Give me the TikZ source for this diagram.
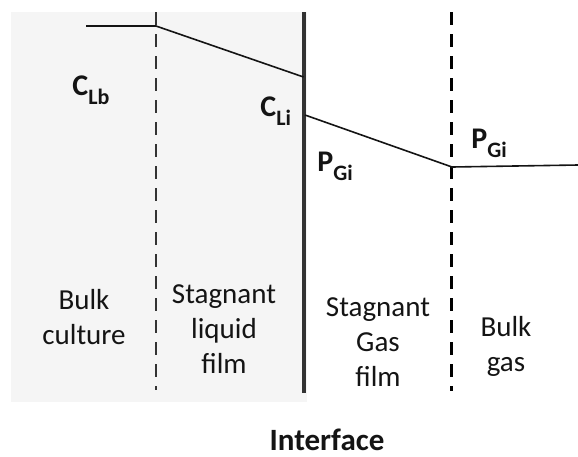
\documentclass[tikz,border=0pt]{standalone}
\usepackage{fontspec}
\setmainfont{Carlito}
\usetikzlibrary{positioning}
\definecolor{filmgray}{RGB}{245,245,245}
\definecolor{linegray}{RGB}{51,51,51}
\definecolor{txtdark}{RGB}{20,20,20}
\newcommand{\conclabel}[2]{#1{\fontsize{11}{11}\selectfont\raisebox{-4.5pt}{#2}}}

\begin{document}
\begin{tikzpicture}[x=.5pt,y=-.5pt,font=\fontsize{14.5}{17.5}\selectfont,
    zone/.style={align=center,text=txtdark,inner sep=0pt},
    conc/.style={font=\fontsize{15}{18}\selectfont\bfseries,text=txtdark,anchor=base west,inner sep=0pt},
    bound/.style={dash pattern=on 6.5pt off 4.5pt}]
    \useasboundingbox (0,0) rectangle (578,456);
    \fill[filmgray] (11,12) rectangle (307,402);
    % film boundaries and interface
    \draw[bound,linegray,line width=1.4pt] (156,12)--(156,390);
    \draw[linegray,line width=2pt] (303.5,12)--(303.5,393);
    \draw[bound,black,line width=1.5pt] (451,12)--(451,391);
    % concentration profile
    \coordinate (lb) at (86,26); \coordinate (lf) at (156,26); \coordinate (li) at (303.5,77);
    \coordinate (gi) at (305,115); \coordinate (gf) at (452,167); \coordinate (gb) at (578,165);
    \draw[txtdark,line width=.8pt] (lb)--(lf)--(li);
    \draw[txtdark,line width=.8pt] (gi)--(gf)--(gb);
    \node[conc] (clb) at (72,95) {\conclabel{C}{Lb}};
    \node[conc] (cli) at (260,116) {\conclabel{C}{Li}};
    \node[conc] (pgi) at (317,171) {\conclabel{P}{Gi}};
    \node[conc] (pgb) at (471,148) {\conclabel{P}{Gi}};
    % regions
    \node[zone] (bulkl) at (84,317) {Bulk\\culture};
    \node[zone] (filml) at (224,329) {Stagnant\\liquid\\film};
    \node[zone] (filmg) at (378,342) {Stagnant\\Gas\\film};
    \node[zone] (bulkg) at (506,346) {Bulk\\gas};
    \node[font=\fontsize{15.5}{18}\selectfont\bfseries,text=txtdark,anchor=base,inner sep=0pt] (iface) at (327,450) {Interface};
\end{tikzpicture}
\end{document}
